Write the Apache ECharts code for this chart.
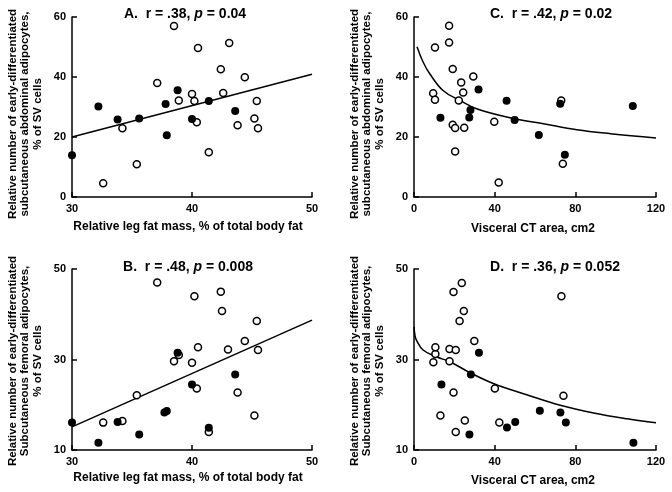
<!DOCTYPE html>
<html>
<head>
<meta charset="utf-8">
<script src="https://cdn.jsdelivr.net/npm/echarts@6/dist/echarts.min.js"></script>
<style>
html,body{margin:0;padding:0;background:#fff;}
#chart{width:672px;height:492px;}
</style>
</head>
<body>
<div id="chart"></div>
<script>
// ---- Data ----
// Panel A: leg fat vs abdominal adipocytes
const aFilled = [[30,13.9],[32.2,30.2],[33.8,25.8],[35.6,26.2],[37.8,31.0],[37.9,20.6],[38.8,35.6],[40.0,26.0],[41.4,32.0],[43.6,28.7]];
const aOpen = [[32.6,4.6],[34.2,22.9],[35.4,10.9],[37.1,38.0],[38.5,57.0],[38.9,32.2],[40.0,34.3],[40.2,32.0],[40.4,24.9],[40.5,49.7],[41.4,14.9],[42.4,42.6],[42.6,34.7],[43.1,51.3],[43.8,23.9],[44.4,39.9],[45.2,26.2],[45.4,32.0],[45.5,22.9]];
const aFit = [[30,20.0],[50,40.9]];
// Panel B: leg fat vs femoral adipocytes
const bFilled = [[30,16.05],[32.2,11.6],[33.8,16.2],[35.6,13.4],[37.7,18.3],[37.9,18.6],[38.8,31.5],[40.0,24.5],[41.4,14.9],[43.6,26.7]];
const bOpen = [[32.6,16.05],[34.2,16.4],[35.4,22.1],[37.1,47.0],[38.5,29.6],[38.9,31.0],[40.0,29.3],[40.2,44.0],[40.4,23.6],[40.5,32.7],[41.4,14.0],[42.4,45.0],[42.5,40.7],[43.0,32.2],[43.8,22.7],[44.4,34.1],[45.2,17.6],[45.4,38.5],[45.5,32.1]];
const bFit = [[30,15.1],[50,38.7]];
// Panel C: visceral CT vs abdominal adipocytes
const cFilled = [[13.1,26.4],[27.4,26.5],[28.0,29.0],[32.0,35.8],[45.9,32.1],[49.9,25.7],[61.9,20.7],[72.5,31.1],[74.8,14.1],[108.5,30.3]];
const cOpen = [[9.5,34.6],[10.4,32.4],[10.4,49.8],[17.4,57.1],[17.4,51.5],[19.2,42.7],[19.2,24.1],[20.4,23.0],[20.4,15.2],[22.2,32.2],[23.4,38.2],[24.4,34.8],[24.9,23.1],[29.4,40.2],[39.8,25.1],[42.0,4.8],[73.0,32.2],[73.8,11.1]];
const cFit = [[1.5,50.1],[4.5,45.0],[7.8,41.1],[14.4,35.5],[22.7,32.2],[31.0,29.4],[47.6,26.4],[64.2,24.4],[80.8,22.4],[97.4,21.1],[120,19.7]];
// Panel D: visceral CT vs femoral adipocytes
const dFilled = [[13.6,24.5],[28.2,26.7],[32.2,31.5],[27.5,13.4],[46.1,15.0],[50.2,16.2],[62.4,18.7],[72.6,18.3],[75.3,16.1],[108.8,11.6]];
const dOpen = [[9.6,29.4],[10.6,31.2],[10.6,32.7],[13.1,17.6],[17.6,32.3],[17.6,29.6],[19.6,44.9],[19.6,22.7],[20.7,32.1],[20.7,14.0],[22.6,38.5],[23.7,46.9],[24.7,40.7],[25.2,16.5],[29.9,34.1],[40.1,23.6],[42.3,16.1],[73.1,44.0],[74.1,22.0]];
const dFit = [[0,37.2],[0.5,35.3],[1.2,34.3],[4.5,32.1],[11.1,30.6],[17.8,29.5],[27.7,27.1],[39.3,24.7],[55.9,22.2],[72.5,19.9],[89.1,18.2],[105.7,16.9],[120,16.0]];

// Axis scales / labels
const xLegFat = {min:30, max:50, interval:10};
const xVisceral = {min:0, max:120, interval:40};
const yAbdominal = {min:0, max:60, interval:20};
const yFemoral = {min:10, max:50, interval:20};

const titles = [
  {letter:'A.', r:'.38', p:'0.04'},
  {letter:'B.', r:'.48', p:'0.008'},
  {letter:'C.', r:'.42', p:'0.02'},
  {letter:'D.', r:'.36', p:'0.052'}
];
const xNames = ['Relative leg fat mass, % of total body fat', 'Relative leg fat mass, % of total body fat', 'Visceral CT area, cm2', 'Visceral CT area, cm2'];
const yNames = [
  'Relative number of early-differentiated\nsubcutaneous abdominal adipocytes,\n% of SV cells',
  'Relative number of early-differentiated\nSubcutaneous femoral adipocytes,\n% of SV cells',
  'Relative number of early-differentiated\nsubcutaneous abdominal adipocytes,\n% of SV cells',
  'Relative number of early-differentiated\nSubcutaneous femoral adipocytes,\n% of SV cells'
];

// ---- Layout ----
const FONT = '"Liberation Sans", Arial, Helvetica, sans-serif';
const grids = [
  {left:72, top:17, width:240, height:180},   // A
  {left:72, top:269, width:240, height:181},  // B
  {left:414, top:17, width:242, height:180},  // C
  {left:414, top:269, width:242, height:181}  // D
];
const xScales = [xLegFat, xLegFat, xVisceral, xVisceral];
const yScales = [yAbdominal, yFemoral, yAbdominal, yFemoral];
const panelData = [
  [aFilled, aOpen, aFit],
  [bFilled, bOpen, bFit],
  [cFilled, cOpen, cFit],
  [dFilled, dOpen, dFit]
];
const titlePos = [[185,14],[188,267],[551,14],[555,267]];
const xNamePos = [[188,227],[188,478],[533,229],[533,481]];
const yNamePos = [[25,114],[25,361],[367,114],[367,361]];

const axisCommon = {
  axisLine: {show:true, onZero:false, lineStyle:{color:'#000', width:1.5}},
  axisTick: {show:true, inside:true, length:5, lineStyle:{color:'#000', width:1.5}},
  splitLine: {show:false},
  axisLabel: {color:'#000', fontFamily:FONT, fontWeight:'bold', fontSize:11, margin:6}
};

const xAxis = xScales.map((s,i) => Object.assign({type:'value', gridIndex:i, min:s.min, max:s.max, interval:s.interval}, JSON.parse(JSON.stringify(axisCommon))));
const yAxis = yScales.map((s,i) => Object.assign({type:'value', gridIndex:i, min:s.min, max:s.max, interval:s.interval}, JSON.parse(JSON.stringify(axisCommon))));

const series = [];
panelData.forEach((pd,i) => {
  series.push({
    type:'line', xAxisIndex:i, yAxisIndex:i, data:pd[2], symbol:'none',
    smooth: pd[2].length > 2 ? 0.4 : false,
    lineStyle:{color:'#000', width:1.5}, z:2, silent:true
  });
  series.push({
    type:'scatter', xAxisIndex:i, yAxisIndex:i, data:pd[1], symbol:'circle', symbolSize:7,
    itemStyle:{color:'#fff', borderColor:'#000', borderWidth:1.5, opacity:1}, z:3
  });
  series.push({
    type:'scatter', xAxisIndex:i, yAxisIndex:i, data:pd[0], symbol:'circle', symbolSize:8,
    itemStyle:{color:'#000', borderColor:'#000', borderWidth:0, opacity:1}, z:4
  });
});

const graphic = [];
titles.forEach((t,i) => {
  graphic.push({
    type:'text', x:titlePos[i][0], y:titlePos[i][1],
    style:{
      text:'{b|' + t.letter + '  r = ' + t.r + ', }{i|p}{b| = ' + t.p + '}',
      align:'center', verticalAlign:'middle',
      rich:{
        b:{fontFamily:FONT, fontWeight:'bold', fontSize:14, fill:'#000'},
        i:{fontFamily:FONT, fontWeight:'bold', fontStyle:'italic', fontSize:14, fill:'#000'}
      }
    }
  });
  graphic.push({
    type:'text', x:xNamePos[i][0], y:xNamePos[i][1],
    style:{text:xNames[i], align:'center', verticalAlign:'middle', fontFamily:FONT, fontWeight:'bold', fontSize:12, fill:'#000'}
  });
  graphic.push({
    type:'text', x:yNamePos[i][0], y:yNamePos[i][1], rotation:Math.PI/2,
    style:{text:yNames[i], align:'center', verticalAlign:'middle', fontFamily:FONT, fontWeight:'bold', fontSize:11.5, lineHeight:12.5, fill:'#000'}
  });
});

const chart = echarts.init(document.getElementById('chart'), null, {renderer:'canvas'});
chart.setOption({
  backgroundColor:'#fff',
  animation:false,
  grid: grids,
  xAxis: xAxis,
  yAxis: yAxis,
  series: series,
  graphic: graphic
});
</script>
</body>
</html>
